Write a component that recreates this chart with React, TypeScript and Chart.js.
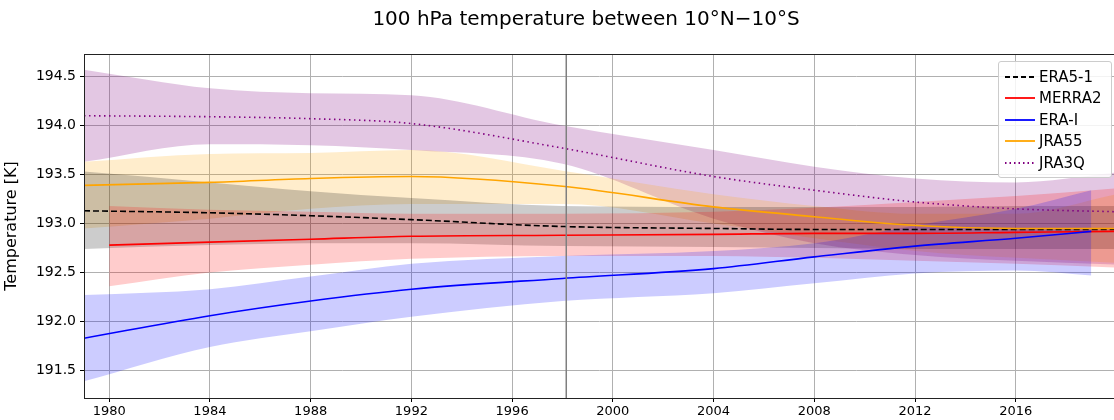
import React, { useEffect, useRef } from "react";
import { Chart, registerables } from "chart.js";
Chart.register(...registerables);

const years = [1979, 1984, 1988, 1992, 1998, 2004, 2008, 2012, 2016, 2020];
const era5 = [193.13, 193.11, 193.08, 193.04, 192.97, 192.95, 192.94, 192.94, 192.94, 192.94];
const era5Up = [193.53, 193.42, 193.33, 193.26, 193.18, 193.17, 193.17, 193.17, 193.18, 193.18];
const era5Lo = [192.74, 192.78, 192.8, 192.8, 192.77, 192.76, 192.75, 192.74, 192.74, 192.74];
const merraYears = [1980, 1984, 1988, 1992, 1998, 2004, 2008, 2012, 2016, 2020];
const merra = [192.78, 192.81, 192.84, 192.87, 192.88, 192.89, 192.9, 192.9, 192.91, 192.92];
const merraUp = [193.18, 193.14, 193.12, 193.1, 193.1, 193.12, 193.16, 193.22, 193.28, 193.36];
const merraLo = [192.36, 192.5, 192.58, 192.64, 192.67, 192.67, 192.65, 192.62, 192.59, 192.55];
const eraiYears = [1979, 1984, 1988, 1992, 1998, 2004, 2008, 2012, 2016, 2019];
const erai = [191.83, 192.06, 192.21, 192.33, 192.44, 192.54, 192.66, 192.77, 192.85, 192.92];
const eraiUp = [192.27, 192.33, 192.46, 192.59, 192.67, 192.72, 192.8, 192.98, 193.15, 193.34];
const eraiLo = [191.39, 191.74, 191.9, 192.05, 192.21, 192.29, 192.39, 192.49, 192.52, 192.47];
const jra55 = [193.39, 193.42, 193.46, 193.48, 193.38, 193.17, 193.07, 192.98, 192.95, 192.95];
const jra55Up = [193.63, 193.71, 193.72, 193.75, 193.54, 193.3, 193.18, 193.1, 193.1, 193.3];
const jra55Lo = [192.95, 193.05, 193.15, 193.2, 193.2, 193.0, 192.85, 192.72, 192.65, 192.6];
const jra3q = [194.1, 194.09, 194.07, 194.02, 193.77, 193.48, 193.34, 193.22, 193.15, 193.12];
const jra3qUp = [194.57, 194.38, 194.33, 194.31, 194.0, 193.75, 193.58, 193.46, 193.42, 193.52];
const jra3qLo = [193.63, 193.81, 193.8, 193.75, 193.61, 193.05, 192.8, 192.68, 192.62, 192.58];
const xTicks = [1980, 1984, 1988, 1992, 1996, 2000, 2004, 2008, 2012, 2016];
const yTicks = [191.5, 192.0, 192.5, 193.0, 193.5, 194.0, 194.5];
const markerYear = 1998.15;

const pts = (xs: number[], ys: number[]) => xs.map((x, i) => ({ x, y: ys[i] }));

function band(xs: number[], up: number[], lo: number[], color: string) {
  return [
    { label: "_", data: pts(xs, up), borderWidth: 0, pointRadius: 0, backgroundColor: color, fill: "+1", cubicInterpolationMode: "monotone" },
    { label: "_", data: pts(xs, lo), borderWidth: 0, pointRadius: 0, backgroundColor: color, fill: false, cubicInterpolationMode: "monotone" },
  ];
}
function line(xs: number[], ys: number[], color: string, dash: number[] = [], label = "") {
  return { label, data: pts(xs, ys), borderColor: color, borderWidth: 1.6, borderDash: dash, pointRadius: 0, fill: false, cubicInterpolationMode: "monotone" };
}

const legendItems = [
  { label: "ERA5-1", color: "#000", dash: "5,3" },
  { label: "MERRA2", color: "red", dash: "" },
  { label: "ERA-I", color: "blue", dash: "" },
  { label: "JRA55", color: "orange", dash: "" },
  { label: "JRA3Q", color: "purple", dash: "1.5,3" },
];

export default function App() {
  const ref = useRef<HTMLCanvasElement>(null);
  useEffect(() => {
    document.body.style.margin = "0";
    const extras = {
      id: "extras",
      beforeDatasetsDraw(c: any) {
        const { ctx } = c;
        ctx.save();
        ctx.fillStyle = "#000";
        ctx.font = "20px 'DejaVu Sans'";
        ctx.textAlign = "center";
        ctx.textBaseline = "alphabetic";
        ctx.fillText("100 hPa temperature between 10°N\u221210°S", 586, 25);
        ctx.restore();
      },
      afterDatasetsDraw(c: any) {
        const { ctx, chartArea: a, scales } = c;
        ctx.save();
        const x = scales.x.getPixelForValue(markerYear);
        ctx.strokeStyle = "#7f7f7f";
        ctx.lineWidth = 1.5;
        ctx.beginPath();
        ctx.moveTo(x, a.top);
        ctx.lineTo(x, a.bottom);
        ctx.stroke();
        ctx.strokeStyle = "#222";
        ctx.lineWidth = 1;
        ctx.strokeRect(a.left + 0.5, a.top + 0.5, a.right - a.left + 5, a.bottom - a.top);
        ctx.restore();
      },
    };
    const chart = new Chart(ref.current!, {
      type: "line",
      data: {
        datasets: [
          line(years, jra3q, "purple", [1.5, 3.5], "JRA3Q"),
          line(years, jra55, "orange", [], "JRA55"),
          line(eraiYears, erai, "blue", [], "ERA-I"),
          line(merraYears, merra, "red", [], "MERRA2"),
          line(years, era5, "#000", [6, 3], "ERA5-1"),
          ...band(eraiYears, eraiUp, eraiLo, "rgba(0,0,255,0.2)"),
          ...band(merraYears, merraUp, merraLo, "rgba(255,0,0,0.2)"),
          ...band(years, era5Up, era5Lo, "rgba(0,0,0,0.2)"),
          ...band(years, jra55Up, jra55Lo, "rgba(255,165,0,0.2)"),
          ...band(years, jra3qUp, jra3qLo, "rgba(128,0,128,0.22)"),
        ] as any,
      },
      plugins: [extras],
      options: {
        animation: false,
        responsive: false,
        layout: { padding: { top: 54, right: 0, left: 0, bottom: 0 } },
        plugins: { legend: { display: false }, tooltip: { enabled: false }, title: { display: false } },
        scales: {
          x: {
            type: "linear",
            min: 1979,
            max: 2019.9,
            afterBuildTicks: (s: any) => { s.ticks = xTicks.map((v) => ({ value: v })); },
            afterFit: (s: any) => { s.height = 22; },
            ticks: { color: "#000", font: { family: "DejaVu Sans", size: 13 }, maxRotation: 0, padding: 2, callback: (v: any) => String(v) },
            grid: { color: "#b0b0b0", lineWidth: 1, tickLength: 4, tickColor: "#000" },
            border: { color: "#222" },
          },
          y: {
            min: 191.22,
            max: 194.73,
            afterBuildTicks: (s: any) => { s.ticks = yTicks.map((v) => ({ value: v })); },
            afterFit: (s: any) => { s.width = 84; },
            ticks: { color: "#000", font: { family: "DejaVu Sans", size: 14 }, padding: 4, callback: (v: any) => Number(v).toFixed(1) },
            grid: { color: "#b0b0b0", lineWidth: 1, tickLength: 4, tickColor: "#000" },
            border: { color: "#222" },
            title: { display: true, text: "Temperature [K]", color: "#000", font: { family: "DejaVu Sans", size: 16 }, padding: 2 },
          },
        },
      } as any,
    });
    return () => chart.destroy();
  }, []);
  return (
    <div style={{ position: "relative", width: 1114, height: 420 }}>
      <canvas ref={ref} width={1114} height={420} style={{ display: "block" }} />
      <div style={{ position: "absolute", left: 998, top: 61, width: 114, padding: "4px 0 3px", background: "rgba(255,255,255,0.85)", border: "1px solid #ccc", borderRadius: 3, fontFamily: "DejaVu Sans", fontSize: 15, boxSizing: "border-box" }}>
        {legendItems.map((it) => (
          <div key={it.label} style={{ display: "flex", alignItems: "center", height: 21.5 }}>
            <svg width={40} height={10}>
              <line x1={6} y1={5} x2={36} y2={5} stroke={it.color} strokeWidth={1.8} strokeDasharray={it.dash} />
            </svg>
            <span>{it.label}</span>
          </div>
        ))}
      </div>
    </div>
  );
}
